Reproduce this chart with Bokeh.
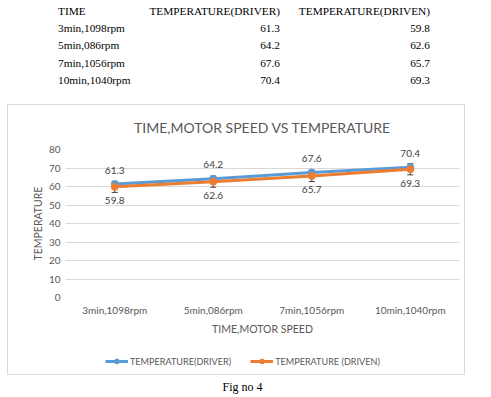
from bokeh.plotting import figure
from bokeh.models import ColumnDataSource, Div, Legend, LegendItem, Whisker, TeeHead, Range1d
from bokeh.layouts import column
from bokeh.embed import file_html
from bokeh.resources import INLINE

categories = ["3min,1098rpm", "5min,086rpm", "7min,1056rpm", "10min,1040rpm"]
driver = [61.3, 64.2, 67.6, 70.4]
driven = [59.8, 62.6, 65.7, 69.3]
driven_err = [3, 3, 3, 3]
series_names = ["TEMPERATURE(DRIVER)", "TEMPERATURE (DRIVEN)"]
table_headers = ["TIME", "TEMPERATURE(DRIVER)", "TEMPERATURE(DRIVEN)"]
y_ticks = [0, 10, 20, 30, 40, 50, 60, 70, 80]

BLUE = "#5B9BD5"
ORANGE = "#ED7D31"
GREY = "#595959"
FONT = "Lato"

# ---- table above the chart ----
cell = "padding:0;height:17.2px;line-height:17.2px;white-space:nowrap;"
rows_html = (f"<tr><td style='{cell}width:89px'>{table_headers[0]}</td>"
             f"<td style='{cell}width:133px;text-align:right'>{table_headers[1]}</td>"
             f"<td style='{cell}width:150px;text-align:right'>{table_headers[2]}</td></tr>")
for c, a, b in zip(categories, driver, driven):
    rows_html += (f"<tr><td style='{cell}'>{c}</td>"
                  f"<td style='{cell}text-align:right'>{a}</td>"
                  f"<td style='{cell}text-align:right'>{b}</td></tr>")
table_div = Div(
    text=(f"<table style=\"border-collapse:collapse;font-family:'Liberation Serif';"
          f"font-size:11.3px;color:#000;position:relative;top:-2px;margin-left:53px\">"
          f"{rows_html}</table>"),
    width=475, height=92)

# ---- chart ----
src = ColumnDataSource(dict(
    cat=categories, driver=driver, driven=driven,
    lo=[v - e for v, e in zip(driven, driven_err)],
    hi=[v + e for v, e in zip(driven, driven_err)],
    dl=[str(v) for v in driver], nl=[str(v) for v in driven],
))

p = figure(x_range=categories, y_range=(0, 80), width=466, height=240,
           output_backend="svg", toolbar_location=None,
           min_border_left=65, min_border_right=7, min_border_top=45,
           min_border_bottom=45)
p.outline_line_color = None
p.background_fill_alpha = 0
p.border_fill_alpha = 0

p.title.text = "TIME,MOTOR SPEED VS TEMPERATURE"
p.title.align = "center"
p.title.offset = 0
p.title.text_font = FONT
p.title.text_font_size = "14px"
p.title.text_font_style = "normal"
p.title.text_color = GREY
p.title.standoff = 28

p.xgrid.grid_line_color = None
p.ygrid.grid_line_color = "#d9d9d9"
p.yaxis.ticker = y_ticks
for ax in (p.xaxis[0], p.yaxis[0]):
    ax.axis_line_color = None
    ax.major_tick_line_color = None
    ax.minor_tick_line_color = None
    ax.major_tick_out = 0
    ax.major_tick_in = 0
    ax.major_label_text_font = FONT
    ax.major_label_text_font_size = "10px"
    ax.major_label_text_color = GREY
    ax.axis_label_text_font = FONT
    ax.axis_label_text_font_size = "10.5px"
    ax.axis_label_text_font_style = "normal"
    ax.axis_label_text_color = GREY
p.xaxis.axis_label = "TIME,MOTOR SPEED"
p.yaxis.axis_label = "TEMPERATURE"
p.xaxis.major_label_standoff = 6
p.yaxis.major_label_standoff = 5
p.xaxis.axis_label_standoff = 4
p.yaxis.axis_label_standoff = 2

p.line("cat", "driver", source=src, color=BLUE, line_width=3)
p.scatter("cat", "driver", source=src, color=BLUE, size=7)
p.line("cat", "driven", source=src, color=ORANGE, line_width=3)
p.scatter("cat", "driven", source=src, color=ORANGE, size=7)

wh = Whisker(base="cat", lower="lo", upper="hi", source=src, dimension="height",
             line_color="#404040", line_width=1,
             lower_head=TeeHead(size=6, line_color="#404040", line_width=1),
             upper_head=TeeHead(size=6, line_color="#404040", line_width=1))
p.add_layout(wh)

p.text("cat", "driver", text="dl", source=src, y_offset=-14, text_align="center",
       text_baseline="middle", text_font_size="10px", text_color="#404040",
       text_font={"value": FONT})
p.text("cat", "driven", text="nl", source=src, y_offset=14, text_align="center",
       text_baseline="middle", text_font_size="10px", text_color="#404040",
       text_font={"value": FONT})

# ---- legend strip: same series, drawn out of view, legend only ----
q = figure(width=466, height=37, x_range=categories, y_range=Range1d(-2, -1),
           x_axis_type=None, y_axis_type=None, output_backend="svg",
           toolbar_location=None, min_border_left=65, min_border_right=7,
           min_border_top=0, min_border_bottom=0)
q.outline_line_color = None
q.background_fill_alpha = 0
q.border_fill_alpha = 0
ql1 = q.line("cat", "driver", source=src, color=BLUE, line_width=3)
qc1 = q.scatter("cat", "driver", source=src, color=BLUE, size=5)
ql2 = q.line("cat", "driven", source=src, color=ORANGE, line_width=3)
qc2 = q.scatter("cat", "driven", source=src, color=ORANGE, size=5)
legend = Legend(items=[
    LegendItem(label=series_names[0], renderers=[ql1, qc1]),
    LegendItem(label=series_names[1], renderers=[ql2, qc2]),
], orientation="horizontal", location=(40, 12), padding=0, spacing=19, margin=0,
    glyph_width=23, glyph_height=12, label_standoff=2,
    label_text_font=FONT, label_text_font_size="9.1px", label_text_color=GREY,
    border_line_color=None, background_fill_alpha=0)
q.add_layout(legend)

caption = Div(text=("<div style=\"font-family:'Liberation Serif';font-size:12px;"
                    "text-align:center;line-height:16px;width:475px;position:relative;"
                    "top:-5px\">Fig no 4</div>"),
              width=475, height=11)

# chart box border, drawn as the page background behind the transparent chart
g = "linear-gradient(#d9d9d9,#d9d9d9)"
box_styles = {
    "background-image": ", ".join([g] * 4),
    "background-repeat": "no-repeat",
    "background-position": "7px 104px, 7px 374px, 7px 104px, 464px 104px",
    "background-size": "458px 1px, 458px 1px, 1px 271px, 1px 271px",
}

layout = column(table_div, p, q, caption, styles=box_styles)
open("out.html", "w").write(file_html(layout, INLINE))
